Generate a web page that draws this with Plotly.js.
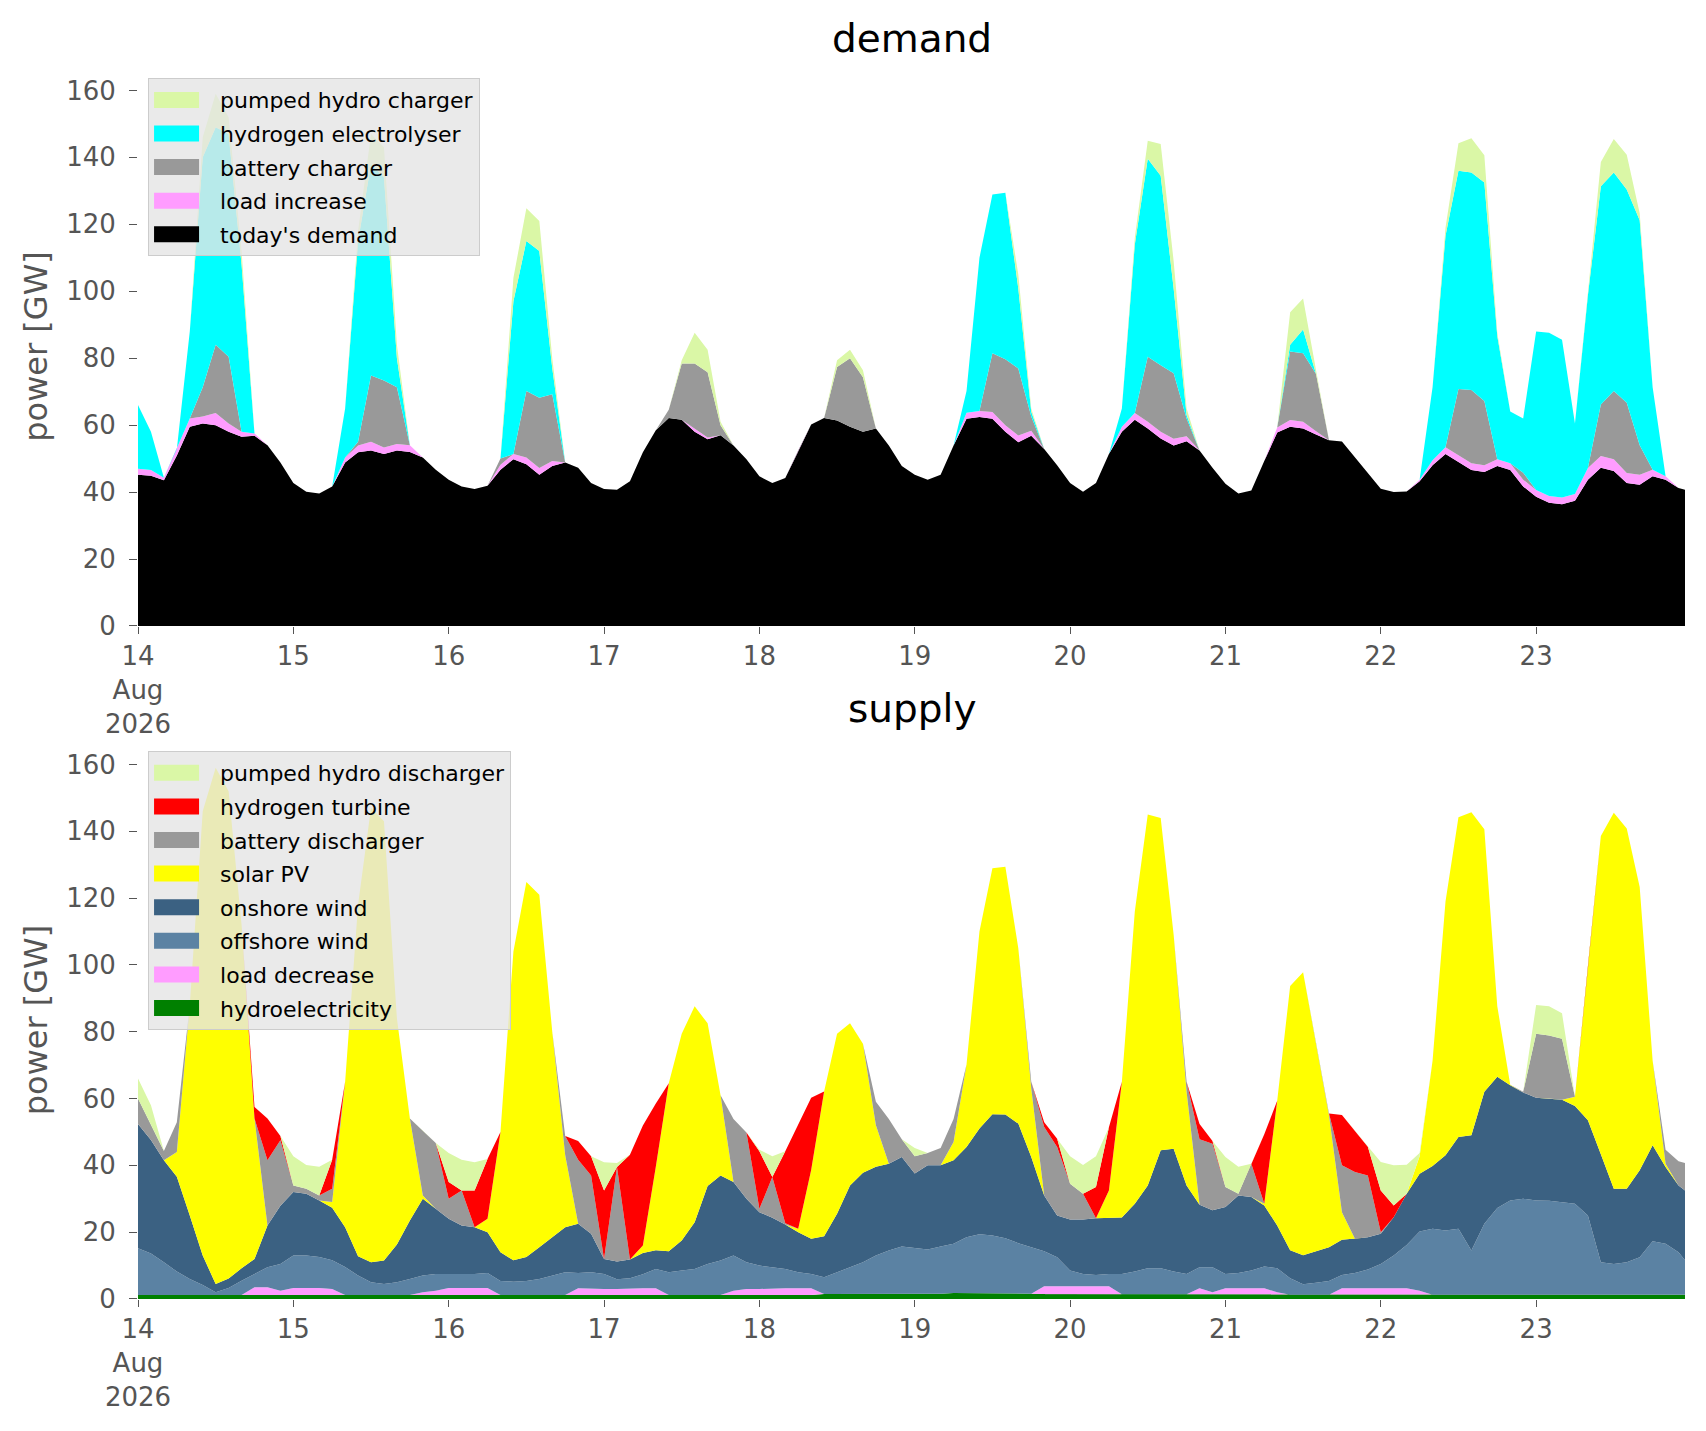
<!DOCTYPE html>
<html lang="en">

<head>
    <meta charset="utf-8">
    <title>demand and supply</title>
    <script src="https://cdn.plot.ly/plotly-3.0.1.min.js"></script>
    <style>
        body,
        html {
            margin: 0;
            padding: 0;
            background: #ffffff;
        }

        #plot {
            width: 1706px;
            height: 1431px;
        }
    </style>
</head>

<body>

    <div id="plot"></div>

    <script>
        // Two-hourly readings, 14 Aug 2026 00:00 to 23 Aug 22:00 (one row per day),
        // plus the last reading at 23 Aug 23:00.
        // Each array is the upper edge of a band, so the stacks are drawn as
        // fills between consecutive edges.

        // demand side
        const todaysDemand = [
            45.2, 44.9, 43.5, 50.9, 59.5, 60.5, 60, 58, 56.5, 56.8, 54, 48.8,
            42.7, 40.1, 39.6, 41.7, 48.8, 51.9, 52.4, 51.4, 52.4, 52, 50.3, 46.7,
            43.7, 41.7, 40.9, 41.9, 46.7, 49.8, 48.3, 45.2, 47.8, 48.8, 47.3, 42.7,
            40.9, 40.7, 43.2, 51.9, 58.5, 62.1, 61.6, 58, 55.8, 57, 53.9, 49.8,
            44.7, 42.7, 44.2, 52.4, 60.2, 62.1, 61.4, 59.5, 58, 59, 53.9, 47.8,
            45.2, 43.7, 45.2, 53.9, 61.9, 62.4, 61.9, 58, 54.9, 56.8, 52.9, 48,
            42.7, 40.1, 42.7, 51.4, 58, 61.6, 59, 56, 53.9, 55.2, 52.4, 47.3,
            42.5, 39.6, 40.5, 49.3, 57.8, 59.5, 59, 57.2, 55.5, 55.1, 50.3, 45.6,
            41, 40, 40.2, 43.2, 48, 51.4, 49, 46.6, 46, 47.8, 46.6, 41.7,
            38.6, 36.8, 36.4, 37.4, 43.7, 47.3, 46.3, 42.7, 42.2, 44.7, 43.7, 41.2,
            40.7
        ];
        const withLoadIncrease = [
            47.0, 46.6, 44.3, 52.9, 62.0, 62.6, 63.6, 60.5, 58.0, 57.5, 54, 48.8,
            42.7, 40.1, 39.6, 41.7, 50.3, 53.9, 55.0, 53.3, 54.4, 54.0, 50.3, 46.7,
            43.7, 41.7, 40.9, 41.9, 48.2, 51.4, 50.3, 47.2, 49.3, 48.8, 47.3, 42.7,
            40.9, 40.7, 43.2, 51.9, 58.5, 62.1, 61.6, 59.0, 56.3, 57, 53.9, 49.8,
            44.7, 42.7, 44.2, 52.4, 60.2, 62.1, 61.4, 59.5, 58, 59, 53.9, 47.8,
            45.2, 43.7, 45.2, 53.9, 63.7, 64.2, 63.9, 60.0, 56.9, 58.3, 52.9, 48,
            42.7, 40.1, 42.7, 51.4, 59.5, 63.6, 61.0, 58.0, 55.9, 56.7, 52.4, 47.3,
            42.5, 39.6, 40.5, 49.3, 59.3, 61.5, 61.0, 58.2, 55.5, 55.1, 50.3, 45.6,
            41, 40, 40.2, 43.7, 49.5, 53.4, 51.0, 48.6, 48.0, 49.8, 48.6, 43.7,
            40.6, 38.8, 38.4, 39.4, 47.2, 50.8, 49.8, 45.7, 45.2, 46.7, 44.7, 41.2,
            40.7
        ];
        const withBatteryCharger = [
            47.0, 46.6, 44.3, 52.9, 62.0, 71.3, 84, 80.4, 58.0, 57.5, 54, 48.8,
            42.7, 40.1, 39.6, 41.7, 50.3, 55, 74.8, 73.3, 71.3, 54.0, 50.3, 46.7,
            43.7, 41.7, 40.9, 41.9, 50, 51.4, 70.2, 68.2, 69.2, 48.8, 47.3, 42.7,
            40.9, 40.7, 43.2, 51.9, 58.5, 64.6, 78.4, 78.4, 75.8, 60, 53.9, 49.8,
            44.7, 42.7, 44.2, 52.4, 60.2, 62.1, 77.4, 80, 74.3, 59, 53.9, 47.8,
            45.2, 43.7, 45.2, 53.9, 63.7, 64.2, 81.5, 79.7, 76.9, 62.6, 52.9, 48,
            42.7, 40.1, 42.7, 51.4, 59.5, 63.6, 80.4, 77.9, 75.5, 62, 52.4, 47.3,
            42.5, 39.6, 40.5, 49.3, 59.3, 82, 81.5, 75.3, 55.5, 55.1, 50.3, 45.6,
            41, 40, 40.2, 43.7, 49.5, 53.4, 70.8, 70.5, 67.2, 49.8, 48.6, 45.8,
            40.6, 38.8, 38.4, 39.4, 47.2, 66.2, 70.2, 66.7, 54, 46.7, 44.7, 41.2,
            40.7
        ];
        const withElectrolyser = [
            66, 58, 44.3, 52.9, 88, 140, 149, 147, 108, 57.5, 54, 48.8,
            42.7, 40.1, 39.6, 41.7, 65, 115, 138, 134, 80, 54.0, 50.3, 46.7,
            43.7, 41.7, 40.9, 41.9, 50, 97, 115, 112, 77, 48.8, 47.3, 42.7,
            40.9, 40.7, 43.2, 51.9, 58.5, 64.6, 78.4, 78.4, 75.8, 60, 53.9, 49.8,
            44.7, 42.7, 44.2, 52.4, 60.2, 62.1, 77.4, 80, 74.3, 59, 53.9, 47.8,
            45.2, 43.7, 45.2, 53.9, 70.2, 110, 128.9, 129.4, 100.8, 64, 52.9, 48,
            42.7, 40.1, 42.7, 51.4, 65, 114, 139.6, 134.5, 100.8, 63, 52.4, 47.3,
            42.5, 39.6, 40.5, 49.3, 59.3, 84, 88.6, 75.3, 55.5, 55.1, 50.3, 45.6,
            41, 40, 40.2, 43.7, 71.3, 116.6, 136, 135.5, 132.5, 86.6, 64.1, 62,
            88, 87.6, 85.5, 60.5, 98.8, 131.4, 135.5, 130.4, 121.2, 71.3, 44.7, 41.2,
            40.7
        ];
        // top of both stacks (pumped hydro charger / discharger edge)
        const balanceTotal = [
            66, 58, 44.3, 52.9, 88, 146, 159, 152, 112, 57.5, 54, 48.8,
            42.7, 40.1, 39.6, 41.7, 65, 118, 147, 143, 84, 54.0, 50.3, 46.7,
            43.7, 41.7, 40.9, 41.9, 50, 104, 124.8, 121, 80, 48.8, 47.3, 42.7,
            40.9, 40.7, 43.2, 51.9, 58.5, 64.6, 79.4, 87.6, 82.5, 61, 53.9, 49.8,
            44.7, 42.7, 44.2, 52.4, 60.2, 62.1, 79.4, 82.5, 76.4, 59, 53.9, 47.8,
            45.2, 43.7, 45.2, 53.9, 70.2, 110, 128.9, 129.4, 105, 65, 52.9, 48,
            42.7, 40.1, 42.7, 51.4, 65, 116, 145, 144, 109, 65, 52.4, 47.3,
            42.5, 39.6, 40.5, 49.3, 59.3, 93.7, 97.8, 76.4, 55.5, 55.1, 50.3, 45.6,
            41, 40, 40.2, 43.7, 71.3, 119, 144.2, 145.7, 140.6, 87.6, 64.1, 62,
            88, 87.6, 85.5, 60.5, 98.8, 138.6, 145.5, 140.8, 123.3, 71.3, 44.7, 41.2,
            40.7
        ];

        // supply side
        const hydroLevel = [
            1.2, 1.2, 1.2, 1.2, 1.2, 1.2, 1.2, 1.2, 1.2, 1.2, 1.2, 1.2,
            1.2, 1.2, 1.2, 1.2, 1.2, 1.2, 1.2, 1.2, 1.2, 1.2, 1.2, 1.2,
            1.2, 1.2, 1.2, 1.2, 1.2, 1.2, 1.2, 1.2, 1.2, 1.2, 1.2, 1.2,
            1.2, 1.2, 1.2, 1.2, 1.2, 1.2, 1.2, 1.2, 1.2, 1.2, 1.2, 1.2,
            1.2, 1.2, 1.2, 1.2, 1.2, 1.5, 1.5, 1.5, 1.5, 1.5, 1.5, 1.5,
            1.5, 1.5, 1.6, 1.8, 1.8, 1.8, 1.8, 1.8, 1.8, 1.6, 1.5, 1.5,
            1.5, 1.5, 1.5, 1.4, 1.4, 1.4, 1.4, 1.4, 1.4, 1.4, 1.3, 1.3,
            1.3, 1.3, 1.3, 1.3, 1.3, 1.3, 1.3, 1.3, 1.3, 1.3, 1.3, 1.3,
            1.3, 1.3, 1.3, 1.3, 1.3, 1.3, 1.3, 1.3, 1.3, 1.3, 1.3, 1.3,
            1.3, 1.3, 1.3, 1.3, 1.3, 1.3, 1.3, 1.3, 1.3, 1.3, 1.3, 1.3,
            1.3
        ];
        const withLoadDecrease = [
            1.2, 1.2, 1.2, 1.2, 1.2, 1.2, 1.2, 1.2, 1.2, 3.5, 3.5, 2.5,
            3.3, 3.3, 3.3, 3.0, 1.2, 1.2, 1.2, 1.2, 1.2, 1.2, 2.0, 2.5,
            3.3, 3.3, 3.3, 3.3, 1.2, 1.2, 1.2, 1.2, 1.2, 1.2, 3.2, 3.0,
            3.0, 3.0, 3.2, 3.2, 3.2, 1.2, 1.2, 1.2, 1.2, 1.2, 2.5, 3.0,
            3.0, 3.2, 3.2, 3.2, 3.2, 1.5, 1.5, 1.5, 1.5, 1.5, 1.5, 1.5,
            1.5, 1.5, 1.6, 1.8, 1.8, 1.8, 1.8, 1.8, 1.8, 1.6, 3.8, 3.8,
            3.8, 3.8, 3.8, 3.8, 1.4, 1.4, 1.4, 1.4, 1.4, 1.4, 3.2, 2.0,
            3.2, 3.2, 3.2, 3.2, 2.0, 1.3, 1.3, 1.3, 1.3, 3.2, 3.2, 3.2,
            3.2, 3.2, 3.2, 2.5, 1.3, 1.3, 1.3, 1.3, 1.3, 1.3, 1.3, 1.3,
            1.3, 1.3, 1.3, 1.3, 1.3, 1.3, 1.3, 1.3, 1.3, 1.3, 1.3, 1.3,
            1.3
        ];
        const withOffshore = [
            15.2, 13.6, 11, 8.2, 6, 4.2, 2, 3.3, 5.5, 7.4, 9.5, 10.5,
            13, 13, 12.6, 11.6, 9.6, 7, 5, 4.5, 5, 6, 7, 7.5,
            7.5, 7.5, 7.5, 7.8, 5.4, 5.2, 5.4, 6, 7, 8, 7.8, 8,
            7.5, 5.9, 6.2, 7.4, 9, 8, 8.5, 9, 10.5, 11.5, 13, 11,
            10, 9.5, 9, 8, 7.5, 6.5, 8, 9.5, 11, 13, 14.5, 15.7,
            15.2, 14.8, 15.7, 16.5, 18.5, 19.4, 19, 18.2, 16.7, 15.6, 14.3, 12.5,
            8.5, 7.5, 7.2, 7.5, 7.5, 8.2, 9.2, 9.2, 8.2, 7.5, 9.5, 9.5,
            7.5, 7.8, 8.5, 9.7, 9.2, 6.2, 4.4, 4.9, 5.4, 7.2, 7.8, 8.8,
            10.5, 13, 16.2, 20.2, 21, 20.5, 21, 14.5, 22.5, 27.2, 29.5, 30,
            29.5, 29.4, 29, 28.5, 25, 11, 10.5, 11, 12.5, 17.3, 16.5, 14,
            11.6
        ];
        const withOnshore = [
            52.4, 47.6, 41.5, 36.6, 25, 13, 4.5, 6.1, 9.2, 12, 22, 27.9,
            32, 31.5, 29.5, 27.3, 21.5, 12.8, 11, 11.5, 16.3, 23.5, 30, 27,
            24, 22, 21.5, 20, 14, 11.6, 12.6, 15.5, 18.5, 21.5, 22.5, 19.5,
            12, 11.2, 11.8, 13.8, 14.6, 14.3, 17.5, 23, 33.8, 37, 35, 30,
            26, 24.3, 22.3, 20, 18, 18.8, 25.5, 34, 37.8, 39.6, 40.5, 42.5,
            37.6, 40, 40, 41.5, 45.5, 51, 55.3, 55.2, 52.5, 42.5, 31, 25,
            23.8, 23.8, 24.2, 24.4, 24.4, 28.5, 34, 44.5, 45, 34, 28.2, 26.6,
            27.5, 31, 30.5, 28, 22, 14.6, 13.1, 14.3, 15.5, 17.7, 18, 18.5,
            19.5, 24.5, 31.5, 37.5, 39.8, 43, 48.5, 49, 62, 66.5, 64, 61.8,
            60.2, 60, 59.6, 57.8, 53.5, 43.3, 33, 33, 38.5, 46, 39.5, 34,
            32.5
        ];
        const withSolar = [
            52.4, 47.6, 41.5, 44, 88, 146, 159, 152, 112, 54, 22, 27.9,
            32, 31.5, 29.5, 29, 65, 118, 147, 143, 84, 54, 31, 27,
            24, 22, 21.5, 24, 50, 104, 124.8, 121, 80, 43, 22.5, 19.5,
            12, 11.2, 11.8, 16, 39.6, 64.6, 79.4, 87.6, 82.5, 61, 35, 30,
            26, 24.3, 22.3, 21, 38.6, 62.1, 79.4, 82.5, 76.4, 52, 40.5, 42.5,
            37.6, 40, 40, 47, 70.2, 110, 128.9, 129.4, 105, 63, 31, 25,
            23.8, 23.8, 24.2, 32.5, 65, 116, 145, 144, 109, 62, 28.2, 26.6,
            27.5, 31, 30.5, 28.5, 59.3, 93.7, 97.8, 76.4, 55, 26, 18, 18.5,
            19.5, 24.5, 31.5, 42.7, 71.3, 119, 144.2, 145.7, 140.6, 87.6, 64.1, 61.8,
            60.2, 60, 59.6, 60.5, 98.8, 138.6, 145.5, 140.8, 123.3, 71.3, 40.5, 34,
            32.5
        ];
        const withBatteryDischarger = [
            60, 52, 44.3, 52.9, 88, 146, 159, 152, 112, 54, 41.5, 47.5,
            34, 33, 31, 33, 65, 118, 147, 143, 84, 54, 50.3, 46.7,
            30, 32.5, 21.5, 24, 50, 104, 124.8, 121, 80, 48.8, 41.7, 37,
            12, 39.5, 11.8, 16, 39.6, 64.6, 79.4, 87.6, 82.5, 61, 53.9, 49.8,
            27, 36.5, 22.7, 21, 38.6, 62.1, 79.4, 82.5, 76.4, 59, 53.9, 47.8,
            42.7, 43.7, 45.2, 53.9, 70.2, 110, 128.9, 129.4, 105, 65, 51.5, 45.5,
            34.5, 31.5, 24.2, 32.5, 65, 116, 145, 144, 109, 65, 47.8, 46.5,
            33.5, 31.5, 40.5, 28.5, 59.3, 93.7, 97.8, 76.4, 55.5, 40, 38, 37,
            20, 24.5, 31.5, 42.7, 71.3, 119, 144.2, 145.7, 140.6, 87.6, 64.1, 62,
            79.4, 78.9, 77.9, 60.5, 98.8, 138.6, 145.5, 140.8, 123.3, 71.3, 44.7, 41.2,
            40.7
        ];
        const withTurbine = [
            60, 52, 44.3, 52.9, 88, 146, 159, 152, 112, 57.5, 54, 48.8,
            34, 33, 31, 41.7, 65, 118, 147, 143, 84, 54, 50.3, 46.7,
            35, 32.5, 32.5, 41.9, 50, 104, 124.8, 121, 80, 48.8, 47.3, 42.7,
            32.5, 39.5, 43.2, 51.9, 58.5, 64.6, 79.4, 87.6, 82.5, 61, 53.9, 49.8,
            44.2, 36.5, 44.2, 52.4, 60.2, 62.1, 79.4, 82.5, 76.4, 59, 53.9, 47.8,
            42.7, 43.7, 45.2, 53.9, 70.2, 110, 128.9, 129.4, 105, 65, 52.9, 48,
            34.5, 31.5, 33.5, 51.4, 65, 116, 145, 144, 109, 65, 52.4, 47.3,
            33.5, 31.5, 40.5, 49.3, 59.3, 93.7, 97.8, 76.4, 55.5, 55.1, 50.3, 45.6,
            32.5, 28, 31.5, 42.7, 71.3, 119, 144.2, 145.7, 140.6, 87.6, 64.1, 62,
            79.4, 78.9, 77.9, 60.5, 98.8, 138.6, 145.5, 140.8, 123.3, 71.3, 44.7, 41.2,
            40.7
        ];

        const dayTicks = ['2026-08-14', '2026-08-15', '2026-08-16', '2026-08-17', '2026-08-18',
            '2026-08-19', '2026-08-20', '2026-08-21', '2026-08-22', '2026-08-23'];
        const dayLabels = ['14<br>Aug<br>2026', '15', '16', '17', '18', '19', '20', '21', '22', '23'];

        // time stamps: every two hours, then the final hour of the 23rd
        function stamp(hour) {
            const d = new Date(Date.UTC(2026, 7, 14, hour));
            return d.toISOString().slice(0, 16).replace('T', ' ');
        }
        const times = [];
        for (let i = 0; i < todaysDemand.length - 1; i += 1) {
            times.push(stamp(2 * i));
        }
        times.push(stamp(239));

        const font = 'DejaVu Sans, sans-serif';
        const greyText = '#555555';

        function band(name, y, color, fill, axis, legend, rank) {
            return {
                type: 'scatter',
                mode: 'lines',
                name: name,
                x: times,
                y: y,
                line: { width: 0, color: color },
                fill: fill,
                fillcolor: color,
                xaxis: axis === 1 ? 'x' : 'x2',
                yaxis: axis === 1 ? 'y' : 'y2',
                legend: legend,
                legendgroup: name,
                legendrank: rank,
                hoverinfo: 'skip'
            };
        }

        // legend lists the top band first, as in the source figure
        const data = [
            band("today's demand", todaysDemand, '#000000', 'tozeroy', 1, 'legend', 5),
            band('load increase', withLoadIncrease, '#ff9cff', 'tonexty', 1, 'legend', 4),
            band('battery charger', withBatteryCharger, '#999999', 'tonexty', 1, 'legend', 3),
            band('hydrogen electrolyser', withElectrolyser, '#00ffff', 'tonexty', 1, 'legend', 2),
            band('pumped hydro charger', balanceTotal, '#daf7a6', 'tonexty', 1, 'legend', 1),

            band('hydroelectricity', hydroLevel, '#008000', 'tozeroy', 2, 'legend2', 8),
            band('load decrease', withLoadDecrease, '#ff9cff', 'tonexty', 2, 'legend2', 7),
            band('offshore wind', withOffshore, '#5b82a3', 'tonexty', 2, 'legend2', 6),
            band('onshore wind', withOnshore, '#3b6182', 'tonexty', 2, 'legend2', 5),
            band('solar PV', withSolar, '#ffff00', 'tonexty', 2, 'legend2', 4),
            band('battery discharger', withBatteryDischarger, '#999999', 'tonexty', 2, 'legend2', 3),
            band('hydrogen turbine', withTurbine, '#ff0000', 'tonexty', 2, 'legend2', 2),
            band('pumped hydro discharger', balanceTotal, '#daf7a6', 'tonexty', 2, 'legend2', 1)
        ];

        const xRange = [times[0], times[times.length - 1]];

        const xAxis = {
            type: 'date',
            range: xRange,
            tickmode: 'array',
            tickvals: dayTicks,
            ticktext: dayLabels,
            ticks: 'outside',
            ticklen: 7,
            tickcolor: greyText,
            tickfont: { family: font, size: 26, color: greyText },
            showgrid: false,
            zeroline: false,
            showline: false
        };

        const yAxis = {
            range: [0, 167],
            tickmode: 'array',
            tickvals: [0, 20, 40, 60, 80, 100, 120, 140, 160],
            ticks: 'outside',
            ticklen: 8,
            tickcolor: greyText,
            ticklabelstandoff: 8,
            tickfont: { family: font, size: 26, color: greyText },
            showgrid: false,
            zeroline: false,
            showline: false,
            title: { text: 'power [GW]', font: { family: font, size: 32, color: greyText }, standoff: 8 }
        };

        const legendStyle = {
            x: 0.0065,
            xanchor: 'left',
            yanchor: 'top',
            bgcolor: 'rgba(229,229,229,0.8)',
            bordercolor: '#cccccc',
            borderwidth: 1,
            font: { family: font, size: 22, color: '#000000' },
            traceorder: 'grouped',
            tracegroupgap: 2,
            itemwidth: 61
        };

        const layout = {
            width: 1706,
            height: 1431,
            margin: { l: 138, r: 21, t: 67, b: 132 },
            paper_bgcolor: '#ffffff',
            plot_bgcolor: '#ffffff',
            font: { family: font },
            showlegend: true,
            xaxis: Object.assign({}, xAxis, { anchor: 'y' }),
            yaxis: Object.assign({}, yAxis, { domain: [0.5463, 1], anchor: 'x' }),
            xaxis2: Object.assign({}, xAxis, { anchor: 'y2' }),
            yaxis2: Object.assign({}, yAxis, { domain: [0, 0.4529], anchor: 'x2' }),
            legend: Object.assign({}, legendStyle, { y: 0.991 }),
            legend2: Object.assign({}, legendStyle, { y: 0.4448 }),
            annotations: [
                {
                    text: 'demand', xref: 'paper', yref: 'paper', x: 0.5, y: 1.0235,
                    xanchor: 'center', yanchor: 'middle', showarrow: false,
                    font: { family: font, size: 39, color: '#000000' }
                },
                {
                    text: 'supply', xref: 'paper', yref: 'paper', x: 0.5, y: 0.4789,
                    xanchor: 'center', yanchor: 'middle', showarrow: false,
                    font: { family: font, size: 39, color: '#000000' }
                }
            ]
        };

        Plotly.newPlot('plot', data, layout, { displayModeBar: false, staticPlot: true }).then(function (gd) {
            // matplotlib-style legend patches: wide filled boxes instead of thin strips
            gd.querySelectorAll('.legendfill path').forEach(function (p) {
                p.setAttribute('d', 'M5,-8h45v16h-45z');
            });
            gd.querySelectorAll('.legendlines path').forEach(function (p) {
                p.style.display = 'none';
            });
        });
    </script>

</body>

</html>
